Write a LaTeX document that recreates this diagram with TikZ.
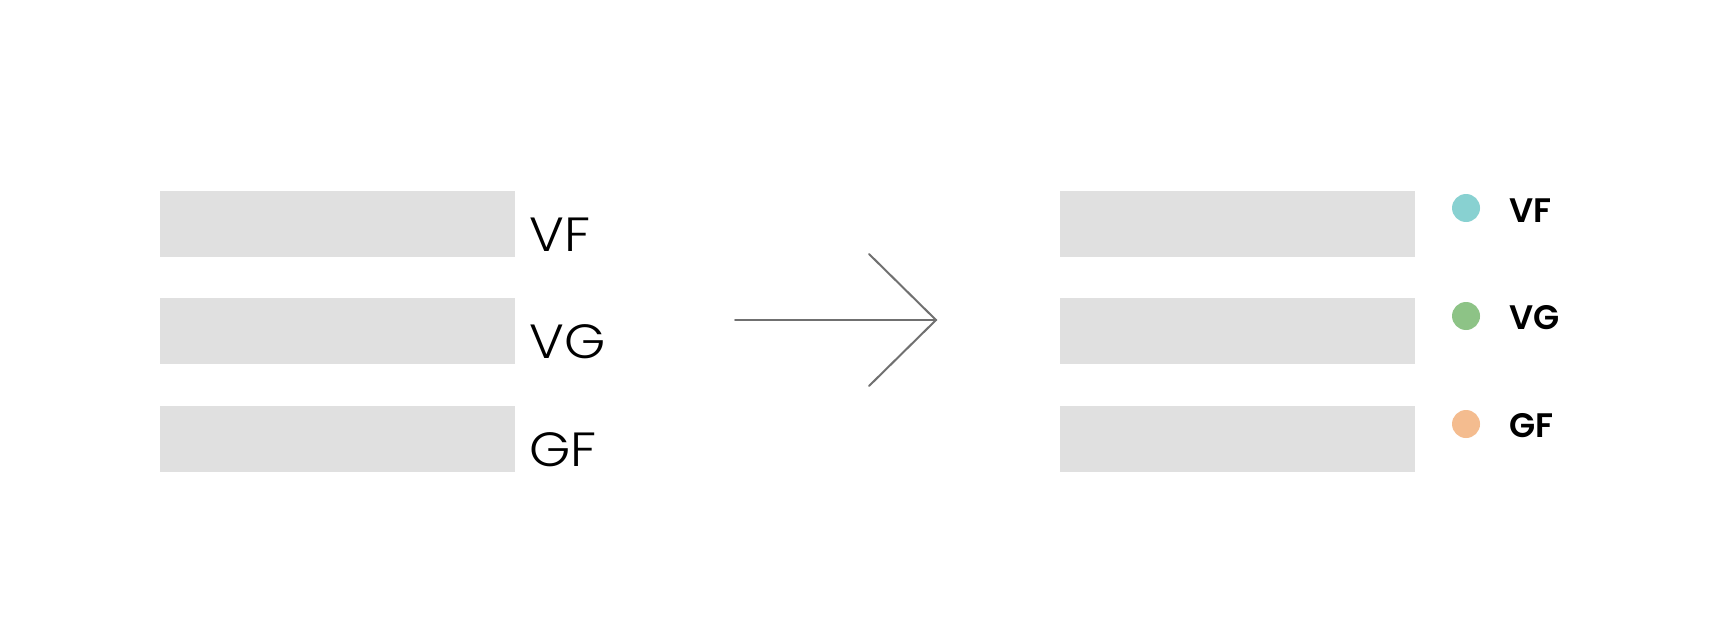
\documentclass[tikz,border=0pt]{standalone}
\usepackage{fontspec}
\setmainfont{Poppins}
\newfontfamily\lightfont{Poppins Light}
\newfontfamily\boldfont{Poppins SemiBold}
\definecolor{barg}{HTML}{E0E0E0}
\definecolor{dotvf}{HTML}{88D1D1}
\definecolor{dotvg}{HTML}{8DC386}
\definecolor{dotgf}{HTML}{F4BC8F}
\definecolor{arrowc}{HTML}{707070}
\tikzset{
  bar/.style={fill=barg, draw=none, anchor=north west, minimum width=177.5pt, minimum height=33pt, inner sep=0pt},
  leftlbl/.style={anchor=base west, inner sep=0pt, font=\lightfont\fontsize{24}{24}\selectfont, text=black, xscale=1.1, transform shape},
  rightlbl/.style={anchor=base west, inner sep=0pt, font=\boldfont\fontsize{17}{17}\selectfont, text=black},
  dot/.style={circle, draw=none, minimum size=14pt, inner sep=0pt},
  arr/.style={draw=arrowc, line width=1pt, line cap=round, line join=miter}
}
\begin{document}
\begin{tikzpicture}[x=0.5pt,y=-0.5pt]
\useasboundingbox[fill=white] (0,0) rectangle (1716,642);
% left bars
\node[bar] (l1) at (160,191) {};
\node[bar] (l2) at (160,298) {};
\node[bar] (l3) at (160,406) {};
\node[leftlbl] (t1) at (529,251) {VF};
\node[leftlbl] (t2) at (529,358) {VG};
\node[leftlbl] (t3) at (529,466) {GF};
% arrow
\coordinate (as) at (735,320);
\coordinate (at) at (936,320);
\coordinate (aw1) at (869,254);
\coordinate (aw2) at (869,386);
\draw[arr] (as) -- (at);
\draw[arr] (aw1) -- (at) -- (aw2);
% right bars
\node[bar] (r1) at (1060,191) {};
\node[bar] (r2) at (1060,298) {};
\node[bar] (r3) at (1060,406) {};
\node[dot, fill=dotvf] (d1) at (1466,208) {};
\node[dot, fill=dotvg] (d2) at (1466,316) {};
\node[dot, fill=dotgf] (d3) at (1466,424) {};
\node[rightlbl] (s1) at (1509,222) {VF};
\node[rightlbl] (s2) at (1509,329) {VG};
\node[rightlbl] (s3) at (1509,437) {GF};
\end{tikzpicture}
\end{document}
